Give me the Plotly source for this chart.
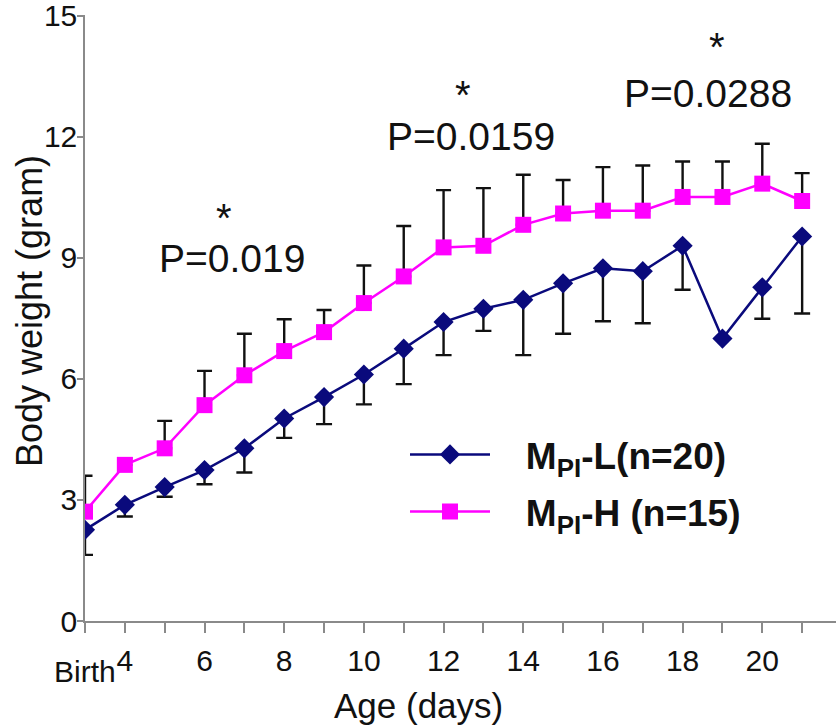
import plotly.graph_objects as go

# ---- data ----
days = [3, 4, 5, 6, 7, 8, 9, 10, 11, 12, 13, 14, 15, 16, 17, 18, 19, 20, 21]
x_label_vals = [4, 6, 8, 10, 12, 14, 16, 18, 20]
x_label_text = ["4", "6", "8", "10", "12", "14", "16", "18", "20"]
x_minor_vals = [3, 5, 7, 9, 11, 13, 15, 17, 19, 21]
birth_label = "Birth"
y_tick_vals = [0, 3, 6, 9, 12, 15]

low_name = "M<sub>PI</sub>-L(n=20)"
low_mean = [2.26, 2.88, 3.32, 3.74, 4.28, 5.02, 5.55, 6.11, 6.75, 7.41, 7.74, 7.96,
            8.37, 8.74, 8.67, 9.30, 7.00, 8.27, 9.53]
low_err_down = [0.62, 0.29, 0.24, 0.35, 0.60, 0.48, 0.67, 0.74, 0.88, 0.82, 0.55, 1.37,
                1.25, 1.31, 1.29, 1.09, 0.0, 0.78, 1.91]

high_name = "M<sub>PI</sub>-H (n=15)"
high_mean = [2.71, 3.87, 4.28, 5.35, 6.09, 6.69, 7.16, 7.88, 8.54, 9.26, 9.30, 9.82,
             10.10, 10.17, 10.17, 10.51, 10.51, 10.84, 10.41]
high_err_up = [0.89, 0.16, 0.68, 0.85, 1.03, 0.79, 0.55, 0.93, 1.25, 1.42, 1.43, 1.24,
               0.83, 1.08, 1.12, 0.88, 0.88, 0.99, 0.69]

p_labels = ["P=0.019", "P=0.0159", "P=0.0288"]
star_label = "*"
x_title = "Age (days)"
y_title = "Body weight (gram)"

# ---- layout geometry (pixels) ----
W, H = 836, 727
ML, MR, MT, MB = 85, 0, 14.5, 105.5
PW, PH = W - ML - MR, H - MT - MB


def px(xp):
    return (xp - ML) / PW


def py(yp):
    return (H - MB - yp) / PH


FONT = "Liberation Sans, Arial, sans-serif"
NAVY = "#0a0a7c"
MAGENTA = "#ff00ff"
INK = "#111111"
AXIS = "#8a8a8a"
PAD = "   "  # gap between legend symbol and legend text

fig = go.Figure()

fig.add_trace(go.Scatter(
    x=days, y=low_mean, name=PAD + low_name, mode="lines+markers",
    legendgroup="low",
    line=dict(color=NAVY, width=2.5),
    marker=dict(symbol="diamond", size=15.5, color=NAVY),
    error_y=dict(type="data", symmetric=False,
                 array=[0] * len(low_err_down), arrayminus=low_err_down,
                 color=INK, thickness=2.4, width=8),
))
fig.add_trace(go.Scatter(
    x=days, y=high_mean, name=PAD + high_name, mode="lines+markers",
    legendgroup="high",
    line=dict(color=MAGENTA, width=2.5),
    marker=dict(symbol="square", size=16, color=MAGENTA),
    error_y=dict(type="data", symmetric=False,
                 array=high_err_up, arrayminus=[0] * len(high_err_up),
                 color=INK, thickness=2.4, width=7.5),
))

annotations = []
for (sx, sy), (tx, ty), lab in zip(
        [(224, 218), (463, 95), (717, 47)],
        [(232, 258), (471, 136), (708, 93)],
        p_labels):
    annotations.append(dict(x=px(sx), y=py(sy), xref="paper", yref="paper",
                            text=star_label, showarrow=False,
                            font=dict(family=FONT, size=40, color=INK),
                            xanchor="center", yanchor="middle"))
    annotations.append(dict(x=px(tx), y=py(ty), xref="paper", yref="paper",
                            text=lab, showarrow=False,
                            font=dict(family=FONT, size=39, color=INK),
                            xanchor="center", yanchor="middle"))
annotations.append(dict(x=3, y=py(672), xref="x", yref="paper", text=birth_label,
                        showarrow=False, font=dict(family=FONT, size=30, color=INK),
                        xanchor="center", yanchor="middle"))
annotations.append(dict(x=px(418), y=py(706), xref="paper", yref="paper", text=x_title,
                        showarrow=False, font=dict(family=FONT, size=35, color=INK),
                        xanchor="center", yanchor="middle"))
annotations.append(dict(x=px(29), y=py(311), xref="paper", yref="paper", text=y_title,
                        textangle=-90, showarrow=False,
                        font=dict(family=FONT, size=36, color=INK),
                        xanchor="center", yanchor="middle"))

fig.update_layout(
    width=W, height=H,
    margin=dict(l=ML, r=MR, t=MT, b=MB, pad=0),
    paper_bgcolor="white", plot_bgcolor="white",
    font=dict(family=FONT, color=INK),
    showlegend=True,
    legend=dict(x=px(405), y=py(424), xanchor="left", yanchor="top",
                font=dict(family=FONT, size=37, color=INK, weight="bold"),
                itemwidth=80, bgcolor="rgba(0,0,0,0)",
                traceorder="grouped", tracegroupgap=6),
    annotations=annotations,
)
fig.update_xaxes(
    range=[3, 21.85], tickmode="array", tickvals=x_label_vals, ticktext=x_label_text,
    showline=True, linecolor=AXIS, linewidth=1.5,
    ticks="outside", ticklen=10, tickwidth=1.5, tickcolor=AXIS,
    tickfont=dict(family=FONT, size=30, color=INK),
    ticklabelstandoff=2,
    minor=dict(tickmode="array", tickvals=x_minor_vals, ticks="outside",
               ticklen=10, tickwidth=1.5, tickcolor=AXIS, showgrid=False),
    showgrid=False, zeroline=False,
)
fig.update_yaxes(
    range=[0, 15.02], tickmode="array", tickvals=y_tick_vals,
    showline=True, linecolor=AXIS, linewidth=1.5,
    ticks="outside", ticklen=6, tickwidth=1.5, tickcolor=AXIS,
    tickfont=dict(family=FONT, size=30, color=INK),
    ticklabelstandoff=-6, ticklabeloverflow="allow",
    showgrid=False, zeroline=False,
)

fig.write_html("out.html", config={"displayModeBar": False},
               post_script="document.body.style.margin='0px';")
